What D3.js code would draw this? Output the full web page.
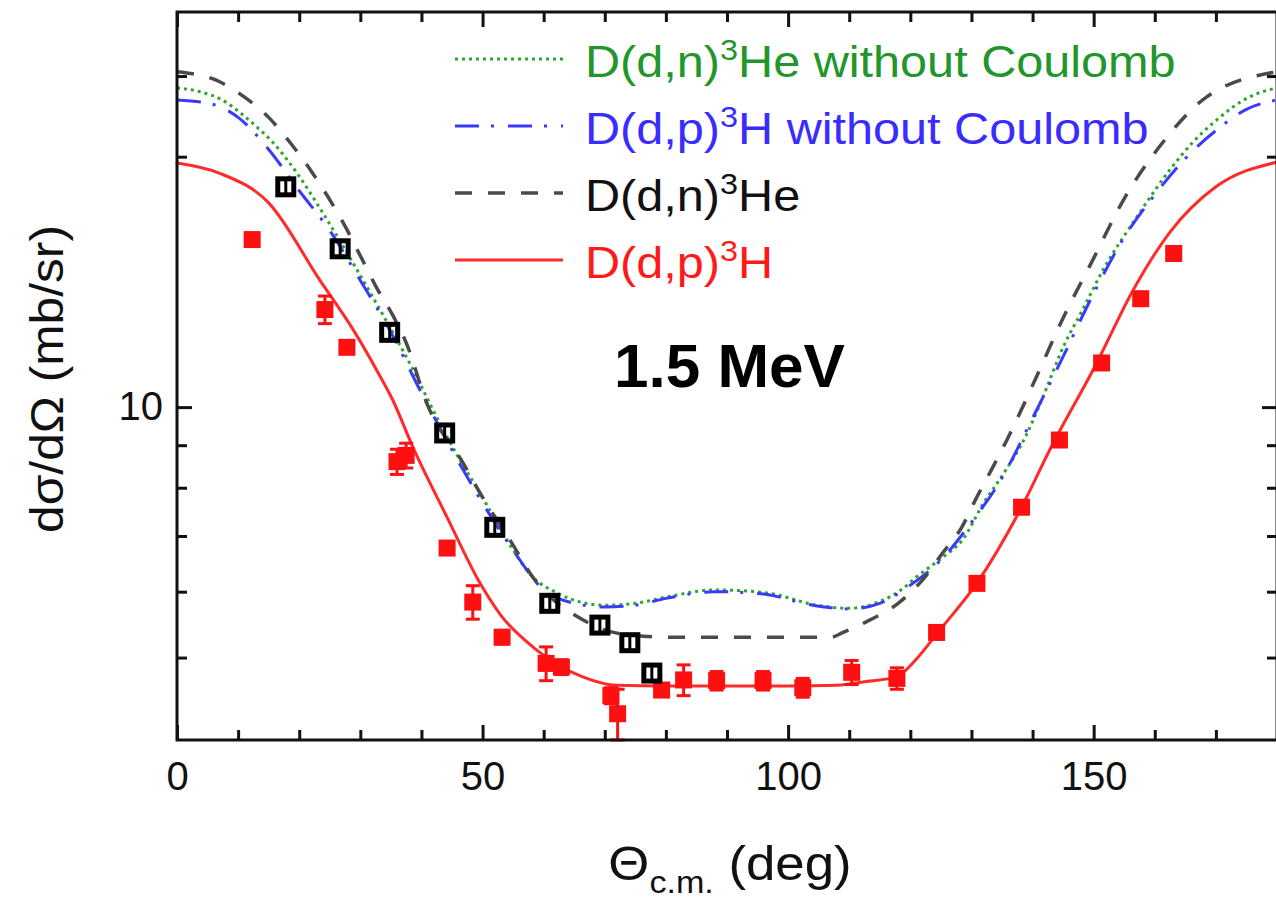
<!DOCTYPE html>
<html>
<head>
<meta charset="utf-8">
<script src="https://cdn.jsdelivr.net/npm/d3@7"></script>
<style>
  html, body { margin: 0; padding: 0; background: #fff; }
  svg { display: block; }
  text { font-family: "Liberation Sans", Arial, Helvetica, sans-serif; }
</style>
</head>
<body>
<svg id="chart" width="1276" height="907"></svg>
<script>
// ---- Axis ticks and labels ----
const xMajorTicks = [0, 50, 100, 150];
const xMinorTicks = [10, 20, 30, 40, 60, 70, 80, 90, 110, 120, 130, 140, 160, 170];
const yMajorTicks = [10];
const yMinorTicks = [5, 6, 7, 8, 9, 20, 25];
const yDomain = [3.98, 29.85];

// ---- Theory curves (angle in deg, cross section in mb/sr) ----
// D(d,n)3He without Coulomb
const dnNoCoulAngle = [0, 4.1, 7.4, 10.3, 13.1, 15.7, 19.0, 23.9, 28.8, 33.2, 38.6, 41.9, 46.3, 49.6, 54.0, 58.2, 62.2, 66, 70, 75, 80, 88, 96.5, 104.7, 110, 115.5, 118.5, 121, 125.3, 128.5, 132, 135.3, 138.8, 141.5, 145, 148.2, 151.5, 157, 162.5, 166.2, 170, 175.5, 180];
const dnNoCoulValue = [24.2, 23.9, 23.4, 22.6, 21.7, 20.8, 19.4, 17.1, 14.9, 13.1, 11.1, 9.92, 8.64, 7.88, 6.92, 6.25, 5.98, 5.83, 5.78, 5.81, 5.91, 6.03, 5.98, 5.78, 5.73, 5.86, 6.03, 6.25, 6.60, 6.92, 7.67, 8.33, 9.20, 10.2, 11.8, 13.1, 14.6, 16.9, 19.3, 20.8, 22.1, 23.6, 24.2];

// D(d,p)3H without Coulomb
const dpNoCoulAngle = [0, 5, 10, 15, 20, 25, 30, 35, 40, 45, 50, 55, 60, 65, 70, 75, 80, 88, 96, 104, 110, 115, 120, 125, 130, 135, 140, 145, 150, 155, 160, 165, 170, 175, 180];
const dpNoCoulValue = [23.4, 23.2, 22.3, 20.4, 18.2, 16.3, 14.2, 12.3, 10.4, 8.88, 7.67, 6.73, 6.03, 5.81, 5.75, 5.78, 5.89, 6.00, 5.96, 5.78, 5.72, 5.81, 6.11, 6.55, 7.27, 8.22, 9.70, 11.5, 13.7, 16.0, 18.0, 19.9, 21.5, 22.8, 23.4];

// D(d,n)3He
const dnAngle = [0, 6.5, 11, 15, 18.5, 22, 24.7, 27.5, 30.2, 32.7, 35.3, 37.6, 40.9, 46.8, 49.6, 54.5, 58.2, 66.4, 72, 80, 90, 100, 107, 109, 113, 118, 122, 125.3, 128.4, 130.9, 133.5, 135.8, 140.7, 145, 149.8, 154.8, 161.3, 168.5, 180];
const dnValue = [25.3, 24.7, 23.6, 22.3, 20.8, 19.2, 17.9, 16.5, 15.1, 13.9, 12.9, 11.9, 10.1, 8.57, 7.88, 6.92, 6.25, 5.55, 5.35, 5.29, 5.29, 5.29, 5.29, 5.36, 5.53, 5.81, 6.20, 6.68, 7.17, 7.80, 8.47, 9.13, 10.9, 12.8, 15.0, 17.7, 20.8, 23.6, 25.3];

// D(d,p)3H
const dpAngle = [0, 7, 15, 23.4, 28.8, 33.2, 35.3, 38.6, 44.2, 49.6, 53, 58.5, 66.4, 72, 80, 90, 100, 108, 112.8, 117.7, 121, 124.5, 131, 138.2, 142.8, 150.5, 156.4, 162.4, 170, 180];
const dpValue = [19.65, 19.1, 17.6, 14.2, 12.4, 10.9, 10.2, 8.95, 7.37, 6.14, 5.62, 5.13, 4.74, 4.63, 4.62, 4.62, 4.62, 4.63, 4.68, 4.74, 4.98, 5.36, 6.16, 7.58, 8.88, 11.3, 13.8, 16.2, 18.4, 19.7];

// ---- Measured data ----
// D(d,p)3H (filled squares)
const dpDataAngle = [12.3, 24.2, 27.8, 36.0, 37.5, 44.2, 48.4, 53.2, 60.4, 62.9, 71.0, 72.1, 79.3, 82.9, 88.3, 95.9, 102.4, 110.4, 117.8, 124.3, 130.9, 138.2, 144.4, 151.3, 157.7, 163.1];
const dpDataValue = [15.9, 13.1, 11.8, 8.6, 8.75, 6.77, 5.83, 5.29, 4.92, 4.87, 4.50, 4.28, 4.57, 4.70, 4.69, 4.69, 4.60, 4.80, 4.72, 5.36, 6.14, 7.58, 9.13, 11.3, 13.5, 15.3];
const dpDataError = [0.2, 0.5, 0.1, 0.3, 0.3, 0.1, 0.27, 0.1, 0.23, 0.1, 0.1, 0.3, 0.08, 0.2, 0.12, 0.12, 0.12, 0.16, 0.14, 0.08, 0.08, 0.1, 0.1, 0.1, 0.1, 0.1];

// D(d,n)3He (open squares)
const dnDataAngle = [17.8, 26.7, 34.8, 43.8, 52.0, 61.0, 69.2, 74.1, 77.7];
const dnDataValue = [18.4, 15.5, 12.3, 9.31, 7.17, 5.81, 5.47, 5.21, 4.79];
const dnDataError = [0.35, 0.3, 0.24, 0.18, 0.14, 0.11, 0.1, 0.1, 0.09];

// ---- Series styling ----
const curves = [
  { angle: dnNoCoulAngle, value: dnNoCoulValue, color: "#2ea52e", width: 3, dash: "3,4",
    label: ["D(d,n)", "3", "He without Coulomb"], textColor: "#22962a" },
  { angle: dpNoCoulAngle, value: dpNoCoulValue, color: "#3a3aff", width: 3, dash: "24,12,3,14",
    label: ["D(d,p)", "3", "H without Coulomb"], textColor: "#3a2cff" },
  { angle: dnAngle, value: dnValue, color: "#4a4a4a", width: 3.5, dash: "17,16",
    label: ["D(d,n)", "3", "He"], textColor: "#111" },
  { angle: dpAngle, value: dpValue, color: "#ff2a2a", width: 3, dash: null,
    label: ["D(d,p)", "3", "H"], textColor: "#ff1a1a" }
];

const svg = d3.select("#chart");
const W = 1276, H = 907;
const plot = { left: 177, right: 1277, top: 12, bottom: 740 };

svg.append("rect").attr("width", W).attr("height", H).attr("fill", "#fff");

const x = d3.scaleLinear().domain([0, 180]).range([plot.left, plot.right]);
const y = d3.scaleLog().domain(yDomain).range([plot.bottom, plot.top]);

// ---- Axes (ticks point inward on all four sides) ----
function styleAxis(g) {
  g.select(".domain").remove();
  g.selectAll(".tick line").attr("stroke", "#111").attr("stroke-width", 3);
  g.selectAll(".tick text").attr("fill", "#111").attr("font-size", 40)
    .attr("font-family", "'Liberation Sans', Arial, sans-serif");
}

svg.append("g").attr("transform", `translate(0,${plot.bottom})`)
  .call(d3.axisBottom(x).tickValues(xMajorTicks).tickSizeInner(-15).tickSizeOuter(0)
    .tickPadding(22).tickFormat(d3.format("d")))
  .call(styleAxis);
svg.append("g").attr("transform", `translate(0,${plot.bottom})`)
  .call(d3.axisBottom(x).tickValues(xMinorTicks).tickSizeInner(-10).tickSizeOuter(0).tickFormat(""))
  .call(styleAxis);
svg.append("g").attr("transform", `translate(0,${plot.top})`)
  .call(d3.axisTop(x).tickValues(xMajorTicks).tickSizeInner(-15).tickSizeOuter(0).tickFormat(""))
  .call(styleAxis);
svg.append("g").attr("transform", `translate(0,${plot.top})`)
  .call(d3.axisTop(x).tickValues(xMinorTicks).tickSizeInner(-10).tickSizeOuter(0).tickFormat(""))
  .call(styleAxis);

svg.append("g").attr("transform", `translate(${plot.left},0)`)
  .call(d3.axisLeft(y).tickValues(yMajorTicks).tickSizeInner(-15).tickSizeOuter(0)
    .tickPadding(14).tickFormat(d3.format("d")))
  .call(styleAxis);
svg.append("g").attr("transform", `translate(${plot.left},0)`)
  .call(d3.axisLeft(y).tickValues(yMinorTicks).tickSizeInner(-10).tickSizeOuter(0).tickFormat(""))
  .call(styleAxis);
svg.append("g").attr("transform", `translate(${plot.right},0)`)
  .call(d3.axisRight(y).tickValues(yMajorTicks).tickSizeInner(-15).tickSizeOuter(0).tickFormat(""))
  .call(styleAxis);
svg.append("g").attr("transform", `translate(${plot.right},0)`)
  .call(d3.axisRight(y).tickValues(yMinorTicks).tickSizeInner(-10).tickSizeOuter(0).tickFormat(""))
  .call(styleAxis);

// ---- Theory curves ----
const line = d3.line()
  .x(d => x(d[0]))
  .y(d => y(d[1]))
  .curve(d3.curveMonotoneX);

curves.forEach(c => {
  const pts = c.angle.map((a, i) => [a, c.value[i]]);
  svg.append("path")
    .attr("d", line(pts))
    .attr("fill", "none")
    .attr("stroke", c.color)
    .attr("stroke-width", c.width)
    .attr("stroke-dasharray", c.dash)
    .attr("stroke-linecap", c.dash ? "butt" : "round");
});

// ---- D(d,p)3H data: filled squares with error bars ----
const redSize = 17;
const dpData = dpDataAngle.map((a, i) => ({ a, v: dpDataValue[i], e: dpDataError[i] }));
const gRed = svg.append("g");
gRed.selectAll("line.err").data(dpData).join("line")
  .attr("x1", d => x(d.a)).attr("x2", d => x(d.a))
  .attr("y1", d => y(d.v - d.e)).attr("y2", d => y(d.v + d.e))
  .attr("stroke", "#ff1010").attr("stroke-width", 3);
gRed.selectAll("line.capLo").data(dpData).join("line")
  .attr("x1", d => x(d.a) - 7).attr("x2", d => x(d.a) + 7)
  .attr("y1", d => y(d.v - d.e)).attr("y2", d => y(d.v - d.e))
  .attr("stroke", "#ff1010").attr("stroke-width", 3);
gRed.selectAll("line.capHi").data(dpData).join("line")
  .attr("x1", d => x(d.a) - 7).attr("x2", d => x(d.a) + 7)
  .attr("y1", d => y(d.v + d.e)).attr("y2", d => y(d.v + d.e))
  .attr("stroke", "#ff1010").attr("stroke-width", 3);
gRed.selectAll("rect").data(dpData).join("rect")
  .attr("x", d => x(d.a) - redSize / 2).attr("y", d => y(d.v) - redSize / 2)
  .attr("width", redSize).attr("height", redSize)
  .attr("fill", "#ff1010");

// ---- D(d,n)3He data: open squares with error bars ----
const blackSize = 16;
const dnData = dnDataAngle.map((a, i) => ({ a, v: dnDataValue[i], e: dnDataError[i] }));
const gBlack = svg.append("g");
gBlack.selectAll("rect").data(dnData).join("rect")
  .attr("x", d => x(d.a) - blackSize / 2).attr("y", d => y(d.v) - blackSize / 2)
  .attr("width", blackSize).attr("height", blackSize)
  .attr("fill", "none").attr("stroke", "#000").attr("stroke-width", 5);
gBlack.selectAll("line").data(dnData).join("line")
  .attr("x1", d => x(d.a)).attr("x2", d => x(d.a))
  .attr("y1", d => y(d.v - d.e)).attr("y2", d => y(d.v + d.e))
  .attr("stroke", "#000").attr("stroke-width", 3);

// ---- Frame ----
svg.append("rect")
  .attr("x", plot.left).attr("y", plot.top)
  .attr("width", plot.right - plot.left).attr("height", plot.bottom - plot.top)
  .attr("fill", "none").attr("stroke", "#111").attr("stroke-width", 3);

// ---- Legend ----
const legend = { x1: 455, x2: 563, textX: 585, y0: 59, dy: 67 };
curves.forEach((c, i) => {
  const ly = legend.y0 + i * legend.dy;
  svg.append("line")
    .attr("x1", legend.x1).attr("x2", legend.x2).attr("y1", ly).attr("y2", ly)
    .attr("stroke", c.color).attr("stroke-width", c.width)
    .attr("stroke-dasharray", c.dash);
  const t = svg.append("text")
    .attr("transform", `translate(${legend.textX},${ly + 18}) scale(1.08,1)`)
    .attr("font-size", 45).attr("fill", c.textColor);
  t.append("tspan").text(c.label[0]);
  t.append("tspan").attr("font-size", 30).attr("dy", -17).text(c.label[1]);
  t.append("tspan").attr("dy", 17).text(c.label[2]);
});

// ---- Energy label ----
svg.append("text")
  .attr("x", 614).attr("y", 387)
  .attr("font-size", 62).attr("font-weight", "bold").attr("fill", "#000")
  .text("1.5 MeV");

// ---- Axis titles ----
const xt = svg.append("text")
  .attr("transform", "translate(730,880) scale(1.1,1)")
  .attr("text-anchor", "middle")
  .attr("font-size", 48).attr("fill", "#111");
xt.append("tspan").text("\u0398");
xt.append("tspan").attr("font-size", 31).attr("dy", 13).text("c.m.");
xt.append("tspan").attr("dy", -13).text(" (deg)");

svg.append("text")
  .attr("transform", "translate(63,379) rotate(-90) scale(1.08,1)")
  .attr("text-anchor", "middle")
  .attr("font-size", 46).attr("fill", "#111")
  .text("d\u03c3/d\u03a9 (mb/sr)");
</script>
</body>
</html>
